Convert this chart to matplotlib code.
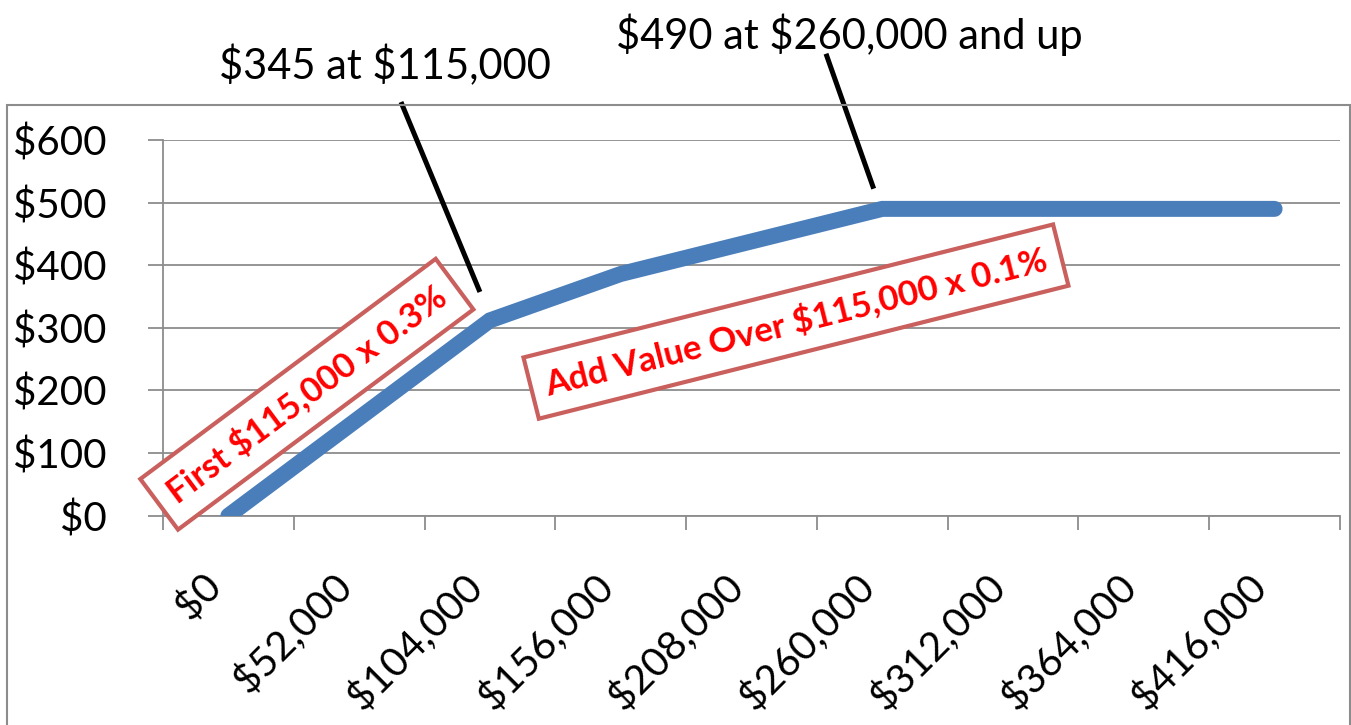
import matplotlib.pyplot as plt
from matplotlib.patches import Rectangle

plt.rcParams['font.family'] = ['Lato', 'DejaVu Sans']
plt.rcParams['text.parse_math'] = False

# Values
income = [0, 52000, 104000, 156000, 208000, 260000, 312000, 364000, 416000]
fee = [0, 156, 312, 386, 438, 490, 490, 490, 490]
y_ticks = [0, 100, 200, 300, 400, 500, 600]

x_labels = [f"${v:,}" for v in income]
y_labels = [f"${v}" for v in y_ticks]

W, H = 1351, 725
fig = plt.figure(figsize=(W / 100, H / 100), dpi=100)
ax = fig.add_axes([163 / W, 1 - 515.7 / H, (1340 - 163) / W, (515.7 - 140) / H])

grey = '#8c8c8c'
blue = '#4a7ebb'
box_edge = '#c9605d'

# Série principale
x = list(range(len(income)))
ax.plot(x, fee, color=blue, lw=11.5, solid_capstyle='round',
        solid_joinstyle='miter', zorder=3)

ax.set_xlim(-0.5, len(income) - 0.5)
ax.set_ylim(0, 600)

ax.set_yticks(y_ticks)
ax.set_yticklabels(y_labels, fontsize=29)
ax.set_xticks(x)
ax.set_xticklabels(x_labels, fontsize=29, rotation=45, ha='right', va='top')
ax.set_xticks([i - 0.5 for i in range(len(income) + 1)], minor=True)

ax.tick_params(axis='y', length=10.8, width=1.3, color=grey, pad=30)
ax.tick_params(axis='x', which='major', length=0, pad=37)
ax.tick_params(axis='x', which='minor', length=10, width=1.3, color=grey)

ax.grid(axis='y', color=grey, lw=1.3, zorder=0)
ax.set_axisbelow(True)
for side in ['top', 'right']:
    ax.spines[side].set_visible(False)
for side in ['left', 'bottom']:
    ax.spines[side].set_color(grey)
    ax.spines[side].set_linewidth(1.3)

# Callouts at the top
ax.text(1.197, 697, "$345 at $115,000", fontsize=30, ha='center',
        va='baseline', clip_on=False)
ax.plot([1.327, 1.916], [657, 361], color='black', lw=3.6, clip_on=False,
        zorder=4)
ax.text(4.745, 745, "$490 at $260,000 and up", fontsize=30, ha='center',
        va='baseline', clip_on=False)
ax.plot([4.576, 4.928], [734, 526], color='black', lw=3.6, clip_on=False,
        zorder=4)

# Red formula boxes
box = dict(boxstyle='square,pad=0.42', fc='white', ec=box_edge, lw=3)
ax.text(0.60, 194, "First $115,000 x 0.3%", fontsize=25, fontweight='bold',
        color='red', rotation=36.7, rotation_mode='anchor', ha='center',
        va='center', bbox=box, zorder=5, clip_on=False)
ax.text(4.34, 310, "Add Value Over $115,000 x 0.1%", fontsize=25,
        fontweight='bold', color='red', rotation=14.1, rotation_mode='anchor',
        ha='center', va='center', bbox=box, zorder=5)

# Chart area border
fig.patches.append(Rectangle((6.5 / W, -0.01), (1349.5 - 6.5) / W,
                             (H - 105) / H + 0.01, transform=fig.transFigure,
                             fill=False, edgecolor=grey, lw=1.5))

fig.savefig('out.png', dpi=100)
